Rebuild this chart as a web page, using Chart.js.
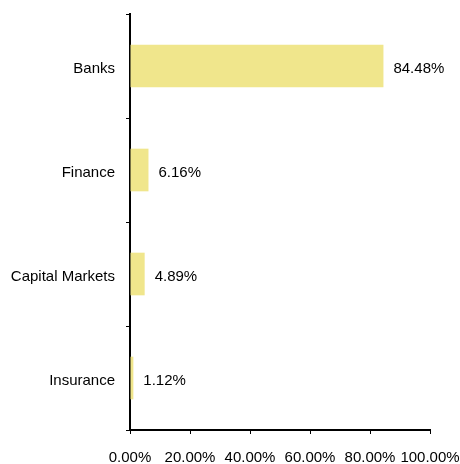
<!DOCTYPE html>
<html>
<head>
<meta charset="utf-8">
<script src="https://cdn.jsdelivr.net/npm/chart.js@4/dist/chart.umd.min.js"></script>
<style>
    html, body { margin: 0; padding: 0; background: #fff; }
    #wrap { width: 460px; height: 464px; }
</style>
</head>
<body>
<div id="wrap"><canvas id="chart"></canvas></div>
<script>
// Sector weights, in percent.
const categories = ['Banks', 'Finance', 'Capital Markets', 'Insurance'];
const weights = [84.48, 6.16, 4.89, 1.12];
const xTicks = [0, 20, 40, 60, 80, 100];

const barColor = '#f0e68c';
const font = { family: '"Liberation Sans", Arial, sans-serif', size: 15 };

// Writes the value just past the end of each bar.
const valueLabels = {
    id: 'valueLabels',
    afterDatasetsDraw(chart) {
        const { ctx } = chart;
        const meta = chart.getDatasetMeta(0);
        ctx.save();
        ctx.font = `${font.size}px ${font.family}`;
        ctx.fillStyle = '#000';
        ctx.textAlign = 'left';
        ctx.textBaseline = 'middle';
        meta.data.forEach((bar, i) => {
            ctx.fillText(`${weights[i].toFixed(2)}%`, bar.x + 10, bar.y + 3);
        });
        ctx.restore();
    },
};

new Chart(document.getElementById('chart'), {
    type: 'bar',
    data: {
        labels: categories,
        datasets: [{
            data: weights,
            backgroundColor: barColor,
            borderWidth: 0,
            barPercentage: 0.41,
            categoryPercentage: 1,
        }],
    },
    options: {
        indexAxis: 'y',
        responsive: true,
        maintainAspectRatio: false,
        animation: false,
        layout: { padding: { top: 14, right: 30, left: 0, bottom: 0 } },
        plugins: {
            legend: { display: false },
            tooltip: { enabled: false },
        },
        scales: {
            x: {
                min: 0,
                max: 100,
                afterBuildTicks: (scale) => { scale.ticks = xTicks.map(v => ({ value: v })); },
                afterFit: (scale) => {
                    scale.height = 34;
                    scale.paddingLeft = 0;
                    scale.paddingRight = 0;
                },
                border: { color: '#000', width: 2 },
                grid: { drawOnChartArea: false, tickLength: 4, color: '#000', tickWidth: 1 },
                ticks: {
                    color: '#000',
                    font,
                    padding: 15,
                    maxRotation: 0,
                    autoSkip: false,
                    callback: v => `${Number(v).toFixed(2)}%`,
                },
            },
            y: {
                afterFit: (scale) => {
                    scale.width = 130;
                    scale.paddingTop = 0;
                    scale.paddingBottom = 0;
                },
                border: { color: '#000', width: 2 },
                grid: { drawOnChartArea: false, tickLength: 4, color: '#000', tickWidth: 1, offset: true },
                ticks: { color: '#000', font, padding: 11, labelOffset: 3 },
            },
        },
    },
    plugins: [valueLabels],
});
</script>
</body>
</html>
